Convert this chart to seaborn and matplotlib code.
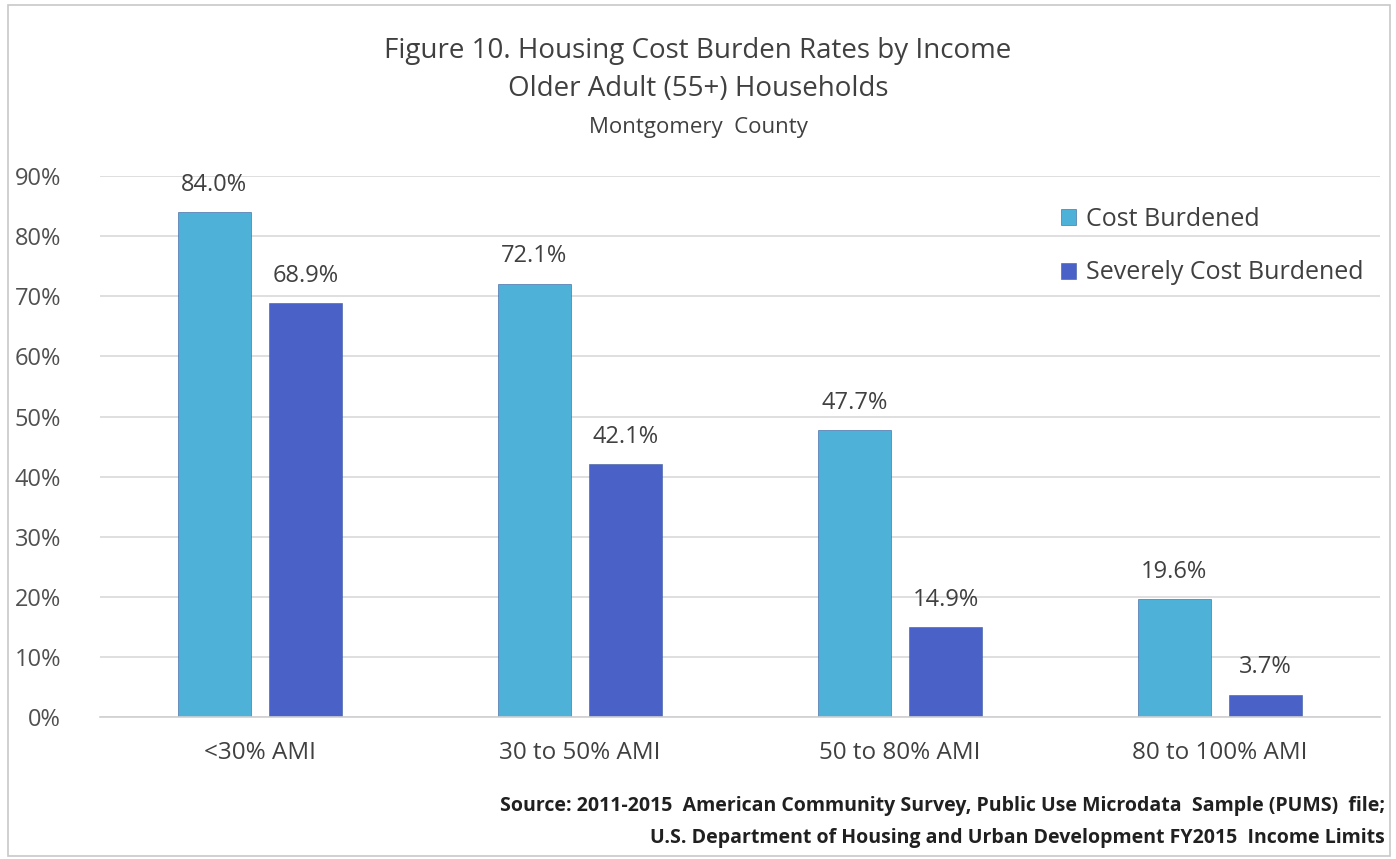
import matplotlib
matplotlib.use('Agg')
import matplotlib.pyplot as plt
import seaborn as sns
import pandas as pd
from matplotlib.patches import Rectangle

# Data
categories = ['<30% AMI', '30 to 50% AMI', '50 to 80% AMI', '80 to 100% AMI']
series_names = ['Cost Burdened', 'Severely Cost Burdened']
cost_burdened = [84.0, 72.1, 47.7, 19.6]
severely_burdened = [68.9, 42.1, 14.9, 3.7]
y_ticks = [0, 10, 20, 30, 40, 50, 60, 70, 80, 90]
colors = ['#4DB1D8', '#4A62C8']

df = pd.DataFrame({
    'category': categories * 2,
    'series': [series_names[0]] * 4 + [series_names[1]] * 4,
    'value': cost_burdened + severely_burdened,
})

sns.set_theme(style='white')
plt.rcParams['font.family'] = ['Open Sans', 'DejaVu Sans']

fig = plt.figure(figsize=(13.96, 8.59), dpi=100)
ax = fig.add_axes([0.0716, 0.1653, 0.9169, 0.6297])

sns.barplot(data=df, x='category', y='value', hue='series', palette=colors,
            width=0.57, gap=0.2, ax=ax, saturation=1, edgecolor='#3a5a9a', linewidth=0.4)

# Value labels
for cont in ax.containers:
    ax.bar_label(cont, labels=[f'{v:.1f}%' for v in cont.datavalues], padding=11,
                 fontsize=17, color='#404040')

ax.set_ylim(0, 90)
ax.set_xlim(-0.5, 3.5)
ax.set_yticks(y_ticks)
ax.set_yticklabels([f'{t}%' for t in y_ticks], fontsize=17, color='#505050')
ax.tick_params(axis='x', labelsize=17.5, labelcolor='#404040', pad=11)
ax.tick_params(axis='y', pad=22)
ax.set_xlabel('')
ax.set_ylabel('')
ax.yaxis.grid(True, color='#d9d9d9', linewidth=1.2)
ax.set_axisbelow(True)
for s in ['top', 'right', 'left']:
    ax.spines[s].set_visible(False)
ax.spines['bottom'].set_color('#d0d0d0')
ax.spines['bottom'].set_linewidth(1.2)

leg = ax.legend(loc='upper right', bbox_to_anchor=(1.005, 0.985), frameon=False, fontsize=18,
                labelspacing=1.15, handlelength=0.6, handleheight=0.6, handletextpad=0.4)
for t in leg.get_texts():
    t.set_color('#404040')

# Titles
fig.text(0.5, 0.941, 'Figure 10. Housing Cost Burden Rates by Income', ha='center', va='center',
         fontsize=20, color='#404040')
fig.text(0.5, 0.896, 'Older Adult (55+) Households', ha='center', va='center',
         fontsize=20, color='#404040')
fig.text(0.5, 0.851, 'Montgomery  County', ha='center', va='center',
         fontsize=16, color='#404040')

# Source
fig.text(0.992, 0.0617, 'Source: 2011-2015  American Community Survey, Public Use Microdata  Sample (PUMS)  file;',
         ha='right', va='center', fontsize=14, fontweight='bold', color='#202020')
fig.text(0.992, 0.0244, 'U.S. Department of Housing and Urban Development FY2015  Income Limits',
         ha='right', va='center', fontsize=14, fontweight='bold', color='#202020')

# Chart border
fig.patches.append(Rectangle((0.006, 0.004), 0.99, 0.99, transform=fig.transFigure,
                             fill=False, edgecolor='#c8c8c8', linewidth=1.2))

fig.savefig('out.png', dpi=100)
